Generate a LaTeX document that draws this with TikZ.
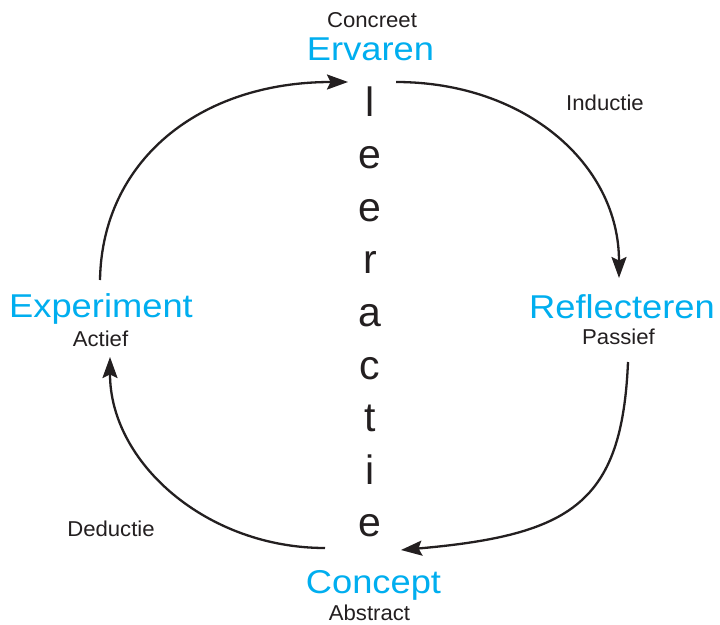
\documentclass[tikz,border=0pt]{standalone}
\usepackage{fontspec}
\setmainfont{Liberation Sans}
\newfontfamily\bigf{Liberation Sans}[FakeStretch=1.1]
\newfontfamily\smallf{Liberation Sans}[FakeStretch=1.03]
\usetikzlibrary{arrows.meta}
\definecolor{cyanblue}{HTML}{00AEEF}
\definecolor{ink}{HTML}{231F20}
\tikzset{
  title/.style={anchor=base, inner sep=0pt, text=cyanblue, font=\bigf\fontsize{33}{36}\selectfont},
  small/.style={anchor=base, inner sep=0pt, text=ink, font=\smallf\fontsize{21.5}{24}\selectfont},
  letter/.style={anchor=base, inner sep=0pt, text=ink, font=\fontsize{41}{44}\selectfont},
  cyc/.style={draw=ink, line width=2.3pt, -{Stealth[length=21pt,width=15pt,inset=3.5pt]}}
}
\begin{document}
\begin{tikzpicture}[x=1pt,y=-1pt]
\useasboundingbox (0,0) rectangle (720,624);
\fill[white] (0,0) rectangle (720,624);
% labels
\node[small] (concreet) at (372,27) {Concreet};
\node[title] (ervaren) at (370.5,60) {Ervaren};
\node[title] (experiment) at (101,317) {Experiment};
\node[small] (actief) at (100.5,346) {Actief};
\node[title] (reflecteren) at (622,318) {Reflecteren};
\node[small] (passief) at (618.5,344) {Passief};
\node[title] (concept) at (373.5,593) {Concept};
\node[small] (abstract) at (369.5,620) {Abstract};
\node[small] (inductie) at (605,110) {Inductie};
\node[small] (deductie) at (111,536) {Deductie};
% vertical word
\foreach \ch [count=\i from 0] in {l,e,e,r,a,c,t,i,e} {
  \node[letter] (v\i) at (370,{116+52.6*\i}) {\ch};
}
% connector ends
\coordinate (tls) at (100,280);
\coordinate (tle) at (348,82);
\coordinate (trs) at (396,82);
\coordinate (tre) at (619,278);
\coordinate (brs) at (628,362);
\coordinate (bre) at (401,550);
\coordinate (bls) at (325,548);
\coordinate (ble) at (110,357);
% cycle arrows
\draw[cyc] (tls) .. controls (102,161) and (199,82) .. (tle);
\draw[cyc] (trs) .. controls (525,82) and (619,164) .. (tre);
\draw[cyc] (brs) .. controls (622,503) and (572,535) .. (bre);
\draw[cyc] (bls) .. controls (207,548) and (110,463) .. (ble);
\end{tikzpicture}
\end{document}
